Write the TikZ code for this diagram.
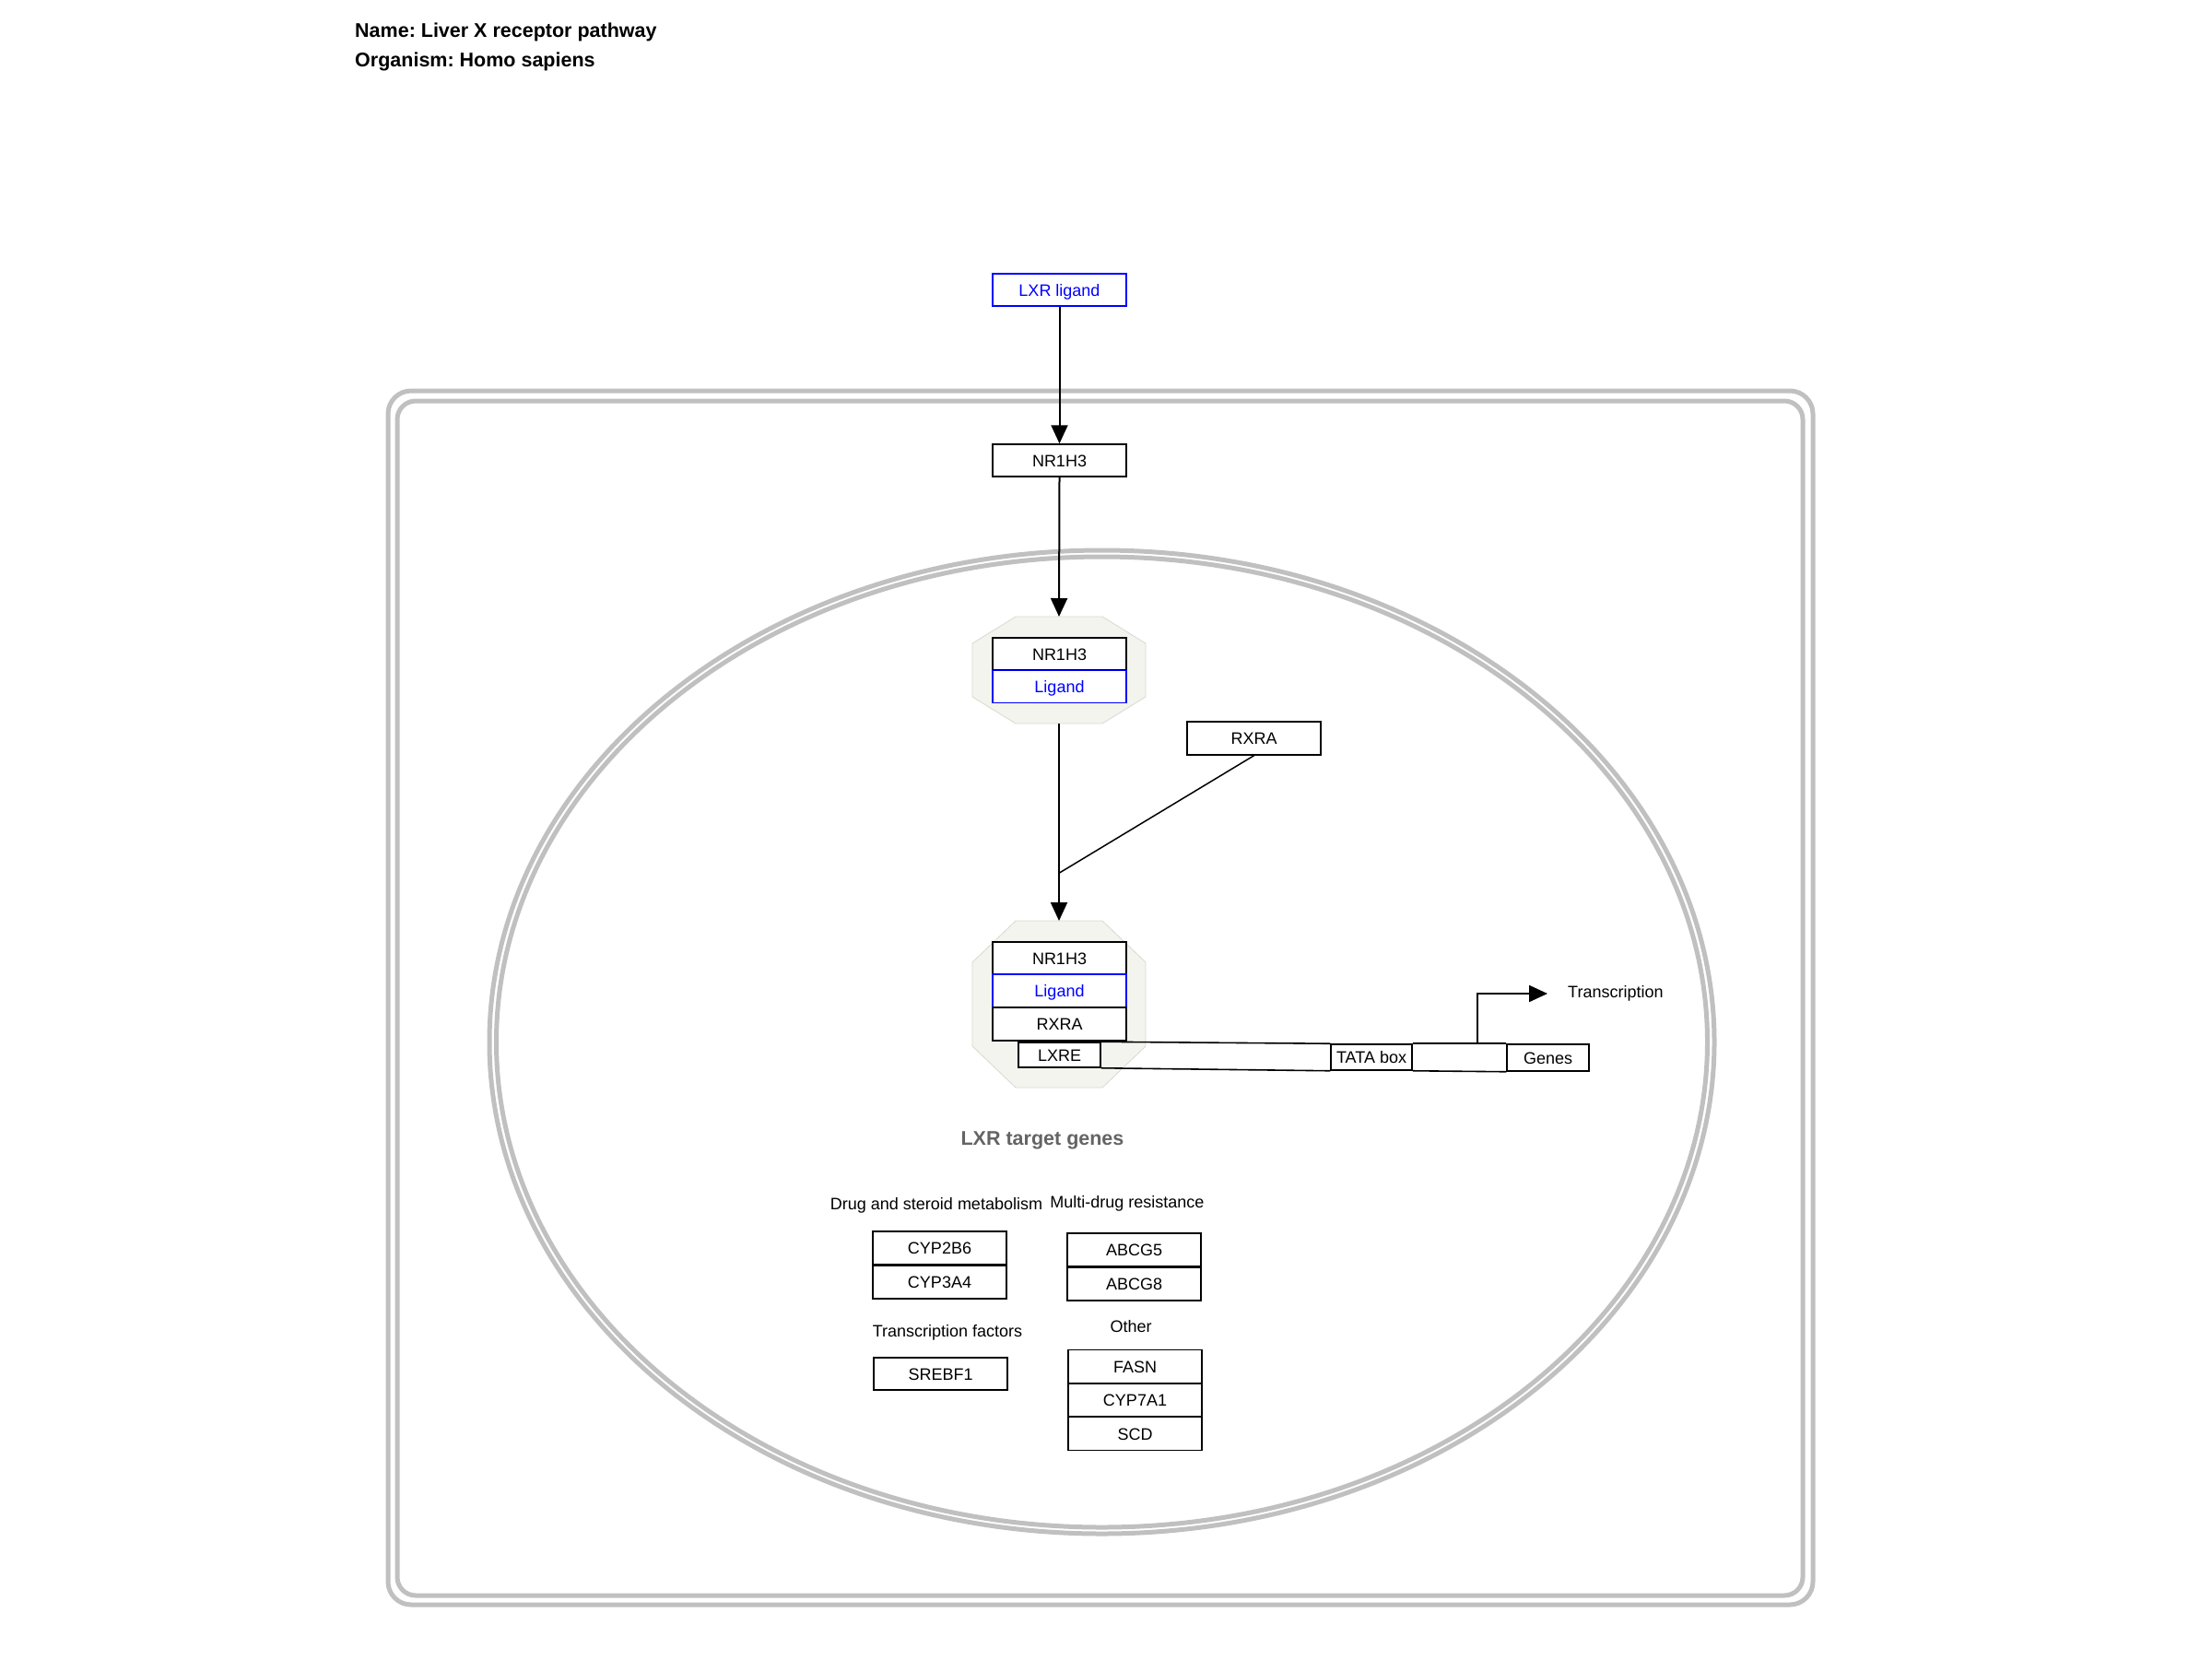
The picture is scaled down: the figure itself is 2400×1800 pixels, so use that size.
\documentclass[tikz,border=0pt]{standalone}
\usepackage{fontspec}
\setmainfont{Liberation Sans}
\usetikzlibrary{arrows.meta,calc}
\frenchspacing

\definecolor{cmpgray}{RGB}{192,192,192}
\definecolor{pvblue}{RGB}{0,0,255}
\definecolor{cplxfill}{RGB}{244,244,238}
\definecolor{cplxline}{RGB}{216,216,210}
\definecolor{labelgray}{RGB}{100,100,100}

% irregular octagon drawn around a named placeholder node
\newcommand{\cplxoct}[3]{%
  \path[cplx] ($(#1.north west)+(#2,0)$) -- ($(#1.north east)+(-#2,0)$)
    -- ($(#1.north east)+(0,#3)$) -- ($(#1.south east)+(0,-#3)$)
    -- ($(#1.south east)+(-#2,0)$) -- ($(#1.south west)+(#2,0)$)
    -- ($(#1.south west)+(0,-#3)$) -- ($(#1.north west)+(0,#3)$) -- cycle;}

\begin{document}
\begin{tikzpicture}[x=1pt,y=-1pt,
  gene/.style={draw=black, line width=1.5pt, fill=white,
    minimum width=145pt, minimum height=35pt, inner sep=0pt,
    text height=13pt, text depth=0pt, font=\fontsize{18}{21}\selectfont},
  metab/.style={gene, draw=pvblue, text=pvblue},
  smallbox/.style={gene, minimum width=89pt, minimum height=27pt},
  cmp/.style={draw=cmpgray, line width=5pt},
  cplx/.style={fill=cplxfill, draw=cplxline, line width=0.8pt},
  holder/.style={inner sep=0pt, outer sep=0pt, draw=none},
  conv/.style={draw=black, line width=2pt, -{Triangle[length=20pt,width=18pt]}},
  plain/.style={draw=black, line width=1.5pt},
  dna/.style={draw=black, line width=1.6pt},
  lbl/.style={inner sep=0pt, font=\fontsize{18}{21}\selectfont},
  title/.style={inner sep=0pt, anchor=base west, font=\fontsize{21.5}{26}\selectfont\bfseries},
]
\useasboundingbox (0,0) rectangle (2400,1800);

% header
\node[title] (tname) at (385,40) {Name: Liver X receptor pathway};
\node[title] (torg) at (385,72) {Organism: Homo sapiens};

% cell and nucleus compartments
\draw[cmp, rounded corners=25pt] (421,424) rectangle (1967,1741);
\draw[cmp, rounded corners=20pt] (431,435) rectangle (1956,1731);
\draw[cmp] (1195.5,1130.5) ellipse [x radius=664.5, y radius=533.5];
\draw[cmp] (1195.5,1130.5) ellipse [x radius=657, y radius=526.5];

% complexes
\node[holder, minimum width=188pt, minimum height=116pt] (cx1) at (1149,727) {};
\cplxoct{cx1}{47}{29}
\node[holder, minimum width=188pt, minimum height=181pt] (cx2) at (1149,1089.5) {};
\cplxoct{cx2}{47}{45}

% DNA strand
\node[smallbox] (lxre) at (1149.5,1144.5) {LXRE};
\node[smallbox, minimum width=88pt, minimum height=28pt] (tata) at (1488,1147) {TATA box};
\node[smallbox, minimum height=29pt] (genes) at (1679.5,1147.5) {Genes};
\draw[dna] (lxre.north east) -- (tata.north west);
\draw[dna] (lxre.south east) -- (tata.south west);
\draw[dna] (tata.north east) -- (genes.north west);
\draw[dna] (tata.south east) -- (genes.south west);
\node[smallbox] at (lxre) {LXRE};
\node[smallbox, minimum width=88pt, minimum height=28pt] at (tata) {TATA box};
\node[smallbox, minimum height=29pt] at (genes) {Genes};

% entities
\node[metab] (lig) at (1149.5,314.5) {LXR ligand};
\node[gene] (nr1) at (1149.5,499.5) {NR1H3};
\node[gene] (c1nr) at (1149.5,709.5) {NR1H3};
\node[metab] (c1lig) at (1149.5,745) {Ligand};
\node[gene, minimum height=36pt] (rxra) at (1360.5,801) {RXRA};
\node[gene] (c2nr) at (1149.5,1039.5) {NR1H3};
\node[metab, minimum height=36pt] (c2lig) at (1149.5,1075) {Ligand};
\node[gene, minimum height=36pt] (c2rx) at (1149.5,1111) {RXRA};

% interactions
\coordinate (join) at (1149.5,947);
\coordinate (tss) at (1603,1133);
\node[lbl, anchor=west] (trans) at (1701,1078) {Transcription};
\draw[conv] (lig.south) -- (nr1.north);
\draw[conv] (nr1.south) -- (cx1.north);
\draw[conv] (cx1.south) -- (cx2.north);
\draw[plain] (rxra.south) -- (join);
\draw[conv] (tss) |- ([xshift=-22pt]trans.west);

% target genes
\node[inner sep=0pt, anchor=base, text=labelgray, font=\fontsize{21.5}{26}\selectfont\bfseries] (tg) at (1131,1242) {LXR target genes};
\node[lbl, anchor=base] (ldrug) at (1016,1312) {Drug and steroid metabolism};
\node[lbl, anchor=base] (lmdr) at (1223,1310) {Multi-drug resistance};
\node[lbl, anchor=base] (ltf) at (1028,1450) {Transcription factors};
\node[lbl, anchor=base] (loth) at (1227,1445) {Other};

\node[gene, minimum height=36pt] (cyp2b6) at (1019.5,1354) {CYP2B6};
\node[gene, minimum height=36pt] (cyp3a4) at (1019.5,1391) {CYP3A4};
\node[gene, minimum height=36pt] (abcg5) at (1230.5,1356) {ABCG5};
\node[gene, minimum height=36pt] (abcg8) at (1230.5,1393) {ABCG8};
\node[gene] (srebf1) at (1020.5,1490.5) {SREBF1};
\node[gene, minimum height=36pt] (fasn) at (1231.5,1482.5) {FASN};
\node[gene, minimum height=36pt] (cyp7a1) at (1231.5,1519) {CYP7A1};
\node[gene, minimum height=36pt] (scd) at (1231.5,1555.5) {SCD};
\end{tikzpicture}
\end{document}
